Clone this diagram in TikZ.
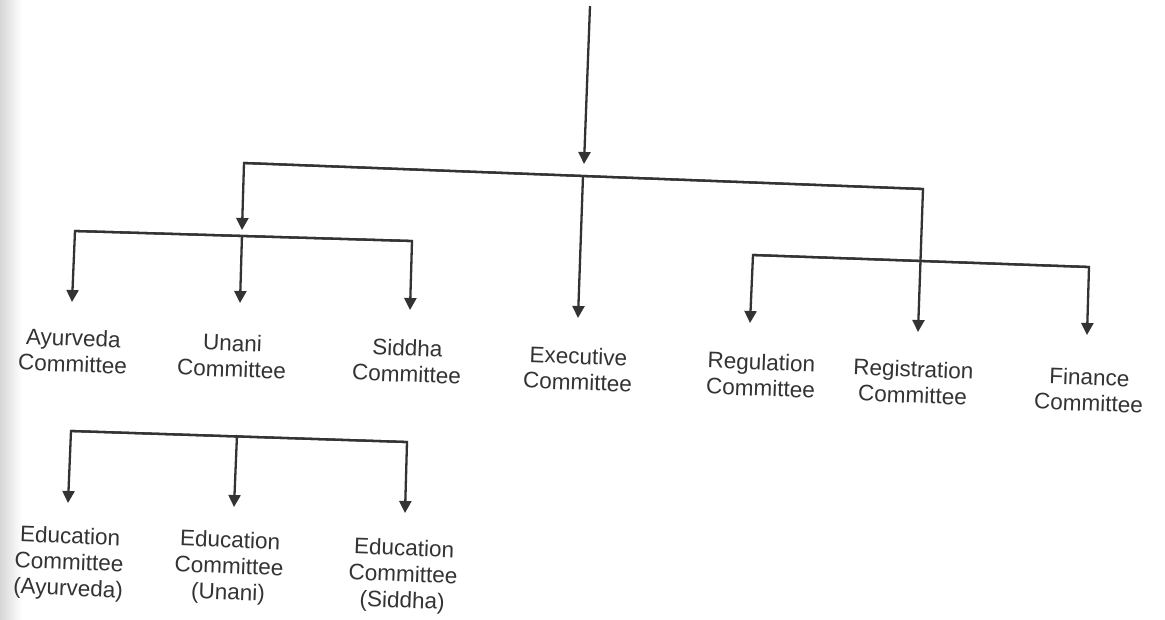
\documentclass[tikz,border=0pt]{standalone}
\usepackage{fontspec}
\setmainfont{Liberation Sans}
\usetikzlibrary{arrows.meta}
\definecolor{ink}{HTML}{333333}
\begin{document}
\begin{tikzpicture}[x=1pt,y=-1pt,
  lbl/.style={text=ink, font=\fontsize{22.5}{26}\selectfont, align=center, inner sep=0pt, rotate=-2.2},
  conn/.style={draw=ink, line width=2.3pt, line join=miter},
  arr/.style={conn, -{Triangle[width=12pt,length=12pt]}}]
\useasboundingbox (0,0) rectangle (1165,619);
\fill[white] (0,0) rectangle (1165,619);
\shade[left color=black!16, right color=white] (0,0) rectangle (22,619);

% labels
\node[lbl] (ayur)  at (73,351)   {Ayurveda\\Committee};
\node[lbl] (unani) at (232,356)  {Unani\\Committee};
\node[lbl] (siddha)at (407,361)  {Siddha\\Committee};
\node[lbl] (exec)  at (578,369)  {Executive\\Committee};
\node[lbl] (regu)  at (761,375)  {Regulation\\Committee};
\node[lbl] (regis) at (913,382)  {Registration\\Committee};
\node[lbl] (fin)   at (1089,390) {Finance\\Committee};
\node[lbl] (eduA)  at (69,564)   {Education\\Committee\\(Ayurveda)};
\node[lbl] (eduU)  at (229,568)  {Education\\Committee\\(Unani)};
\node[lbl] (eduS)  at (403,576)  {Education\\Committee\\(Siddha)};

% junction points
\coordinate (src)   at (590,6);
\coordinate (srcT)  at (584,164);
\coordinate (mainL) at (244,163);
\coordinate (mainM) at (583,176);
\coordinate (mainR) at (923,189);
\coordinate (subT)  at (242,230);
\coordinate (subL)  at (75,231);
\coordinate (subM)  at (242,235);
\coordinate (subR)  at (412,241);
\coordinate (rL)    at (753,255);
\coordinate (rR)    at (1089,267);
\coordinate (bL)    at (71,431);
\coordinate (bM)    at (237,435);
\coordinate (bR)    at (407,442);
% arrow tips
\coordinate (tAyur)  at (72,302);
\coordinate (tUnani) at (240,303);
\coordinate (tSid)   at (410,310);
\coordinate (tExec)  at (578,318);
\coordinate (tRegu)  at (750,323);
\coordinate (tRegis) at (918,332);
\coordinate (tFin)   at (1087,335);
\coordinate (tEA)    at (68,503);
\coordinate (tEU)    at (234,507);
\coordinate (tES)    at (405,513);

% connectors
\draw[arr] (src) -- (srcT);
\draw[arr] (mainR) -- (mainL) -- (subT);
\draw[arr] (mainL) -- (mainR) -- (tRegis);
\draw[arr] (mainM) -- (tExec);

\draw[arr] (subR) -- (subL) -- (tAyur);
\draw[arr] (subL) -- (subR) -- (tSid);
\draw[arr] (subM) -- (tUnani);

\draw[arr] (rR) -- (rL) -- (tRegu);
\draw[arr] (rL) -- (rR) -- (tFin);

\draw[arr] (bR) -- (bL) -- (tEA);
\draw[arr] (bL) -- (bR) -- (tES);
\draw[arr] (bM) -- (tEU);
\end{tikzpicture}
\end{document}
